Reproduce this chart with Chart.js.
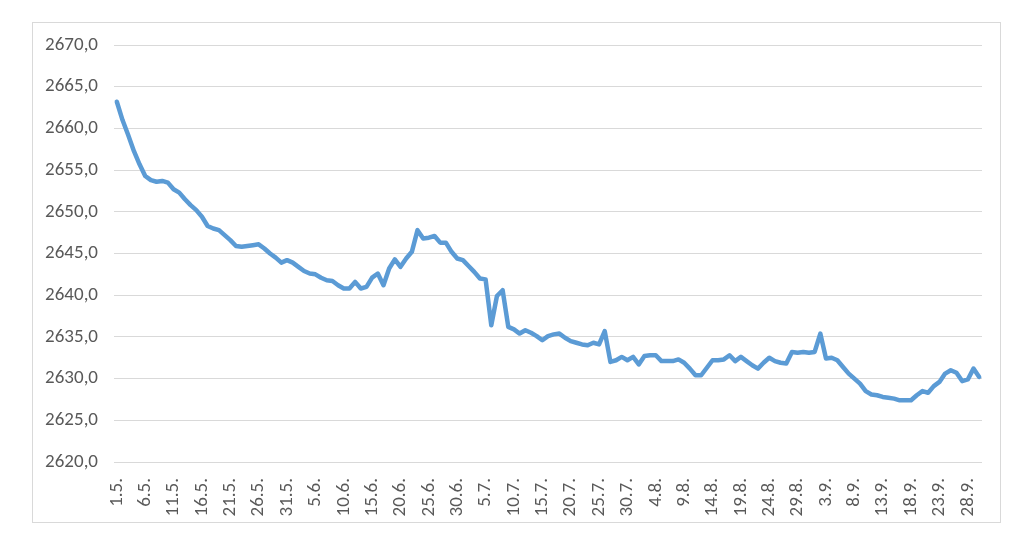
<!DOCTYPE HTML>
<html lang="en">
<head>
    <meta charset="utf-8">
    <title>Line chart</title>
    <script src="https://cdn.jsdelivr.net/npm/chart.js@4.4.0/dist/chart.umd.min.js"></script>
    <style>
        html, body {
            margin: 0;
            padding: 0;
            background: #ffffff;
        }

        #frame {
            position: absolute;
            left: 32px;
            top: 22px;
            width: 967px;
            height: 499px;
            border: 1px solid #d9d9d9;
        }
    </style>
</head>
<body>
    <div id="frame">
        <canvas id="chart"></canvas>
    </div>

    <script>
        // months shown on the axis (May - September) and their lengths
        const months = [5, 6, 7, 8, 9];
        const monthDays = [31, 30, 31, 31, 30];

        // y axis range
        const yMin = 2620;
        const yMax = 2670;
        const yStep = 5;

        // daily values, 1.5. - 30.9.
        const values = [
            2663.2, 2661.0, 2659.2, 2657.3, 2655.7, 2654.3, 2653.8, 2653.6, 2653.7, 2653.5,
            2652.7, 2652.3, 2651.5, 2650.8, 2650.2, 2649.4, 2648.3, 2648.0, 2647.8, 2647.2,
            2646.6, 2645.9, 2645.8, 2645.9, 2646.0, 2646.1, 2645.6, 2645.0, 2644.5, 2643.9,
            2644.2, 2643.9, 2643.4, 2642.9, 2642.6, 2642.5, 2642.1, 2641.8, 2641.7, 2641.2,
            2640.8, 2640.8, 2641.6, 2640.8, 2641.0, 2642.1, 2642.6, 2641.2, 2643.2, 2644.3,
            2643.4, 2644.4, 2645.2, 2647.8, 2646.8, 2646.9, 2647.1, 2646.3, 2646.3, 2645.2,
            2644.4, 2644.2, 2643.5, 2642.8, 2642.0, 2641.9, 2636.4, 2639.9, 2640.6, 2636.2,
            2635.9, 2635.4, 2635.8, 2635.5, 2635.1, 2634.6, 2635.1, 2635.3, 2635.4, 2634.9,
            2634.5, 2634.3, 2634.1, 2634.0, 2634.3, 2634.1, 2635.7, 2632.0, 2632.2, 2632.6,
            2632.2, 2632.6, 2631.7, 2632.7, 2632.8, 2632.8, 2632.1, 2632.1, 2632.1, 2632.3,
            2631.9, 2631.2, 2630.4, 2630.4, 2631.3, 2632.2, 2632.2, 2632.3, 2632.8, 2632.1,
            2632.6, 2632.1, 2631.6, 2631.2, 2631.9, 2632.5, 2632.1, 2631.9, 2631.8, 2633.2,
            2633.1, 2633.2, 2633.1, 2633.2, 2635.4, 2632.4, 2632.5, 2632.2, 2631.4, 2630.6,
            2630.0, 2629.4, 2628.5, 2628.1, 2628.0, 2627.8, 2627.7, 2627.6, 2627.4, 2627.4,
            2627.4, 2628.0, 2628.5, 2628.3, 2629.1, 2629.6, 2630.6, 2631.0, 2630.7, 2629.7,
            2629.9, 2631.2, 2630.2
        ];

        // one category per day, written like "1.5."
        const labels = [];
        for (let m = 0; m < months.length; m++) {
            for (let d = 1; d <= monthDays[m]; d++) {
                labels.push(d + '.' + months[m] + '.');
            }
        }

        const labelEvery = 5; // only every 5th date is printed
        const textColor = '#595959';
        const gridColor = '#d9d9d9';
        const font = { family: 'Calibri, Carlito, "Open Sans", sans-serif', size: 19 };

        new Chart(document.getElementById('chart').getContext('2d'), {
            type: 'line',
            data: {
                labels: labels,
                datasets: [{
                    data: values,
                    borderColor: '#5b9bd5',
                    borderWidth: 4.5,
                    pointRadius: 0,
                    tension: 0,
                    fill: false,
                    borderJoinStyle: 'round',
                    borderCapStyle: 'round'
                }]
            },
            options: {
                responsive: true,
                maintainAspectRatio: false,
                animation: false,
                layout: {
                    padding: { left: 0, right: 18, top: 22, bottom: 0 }
                },
                plugins: {
                    legend: { display: false },
                    tooltip: { enabled: false }
                },
                scales: {
                    x: {
                        offset: true,
                        grid: { display: false },
                        border: { display: false },
                        afterFit: (scale) => {
                            scale.height = 60;
                            scale.paddingLeft = 0;
                            scale.paddingRight = 0;
                        },
                        ticks: {
                            autoSkip: false,
                            minRotation: 90,
                            maxRotation: 90,
                            padding: 8,
                            color: textColor,
                            font: font,
                            callback: (value, index) => index % labelEvery === 0 ? labels[index] : ''
                        }
                    },
                    y: {
                        min: yMin,
                        max: yMax,
                        grid: { color: gridColor, lineWidth: 1, drawTicks: false },
                        border: { display: false },
                        afterFit: (scale) => {
                            scale.width = 81;
                            scale.paddingTop = 0;
                            scale.paddingBottom = 0;
                        },
                        ticks: {
                            stepSize: yStep,
                            padding: 16,
                            color: textColor,
                            font: font,
                            callback: (value) => value.toFixed(1).replace('.', ',')
                        }
                    }
                }
            }
        });
    </script>
</body>
</html>
